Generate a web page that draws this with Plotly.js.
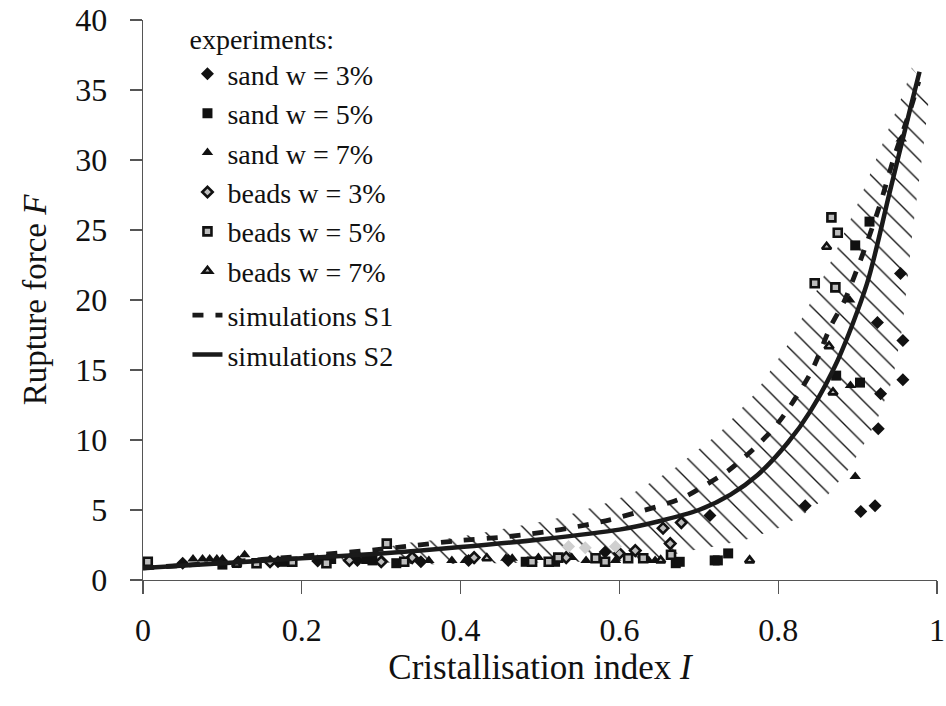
<!DOCTYPE html>
<html><head><meta charset="utf-8">
<script src="https://cdn.plot.ly/plotly-3.0.1.min.js"></script>
<style>html,body{margin:0;padding:0;background:#fff}</style>
</head><body><div id="chart" style="width:946px;height:706px"></div>
<script>
// ---- simulation curves ----
const s1I = [0, 0.1, 0.2, 0.3, 0.331, 0.395, 0.46, 0.526, 0.588, 0.62, 0.651, 0.681, 0.709, 0.737, 0.762, 0.784, 0.805, 0.841, 0.866, 0.883, 0.906, 0.927, 0.946, 0.967, 0.977];
const s1F = [0.85, 1.25, 1.7, 2.2, 2.4, 2.8, 3.1, 3.6, 4.3, 4.8, 5.3, 5.9, 6.8, 7.8, 9.0, 10.2, 11.6, 14.8, 18.1, 19.9, 23.2, 26.6, 30.2, 33.7, 35.6];
const s2I = [0, 0.1, 0.2, 0.3, 0.4, 0.5, 0.6, 0.65, 0.7, 0.74, 0.774, 0.812, 0.841, 0.875, 0.912, 0.94, 0.966, 0.978];
const s2F = [0.85, 1.2, 1.55, 1.9, 2.35, 2.9, 3.6, 4.2, 5.0, 6.1, 7.5, 9.8, 12.1, 15.7, 21.2, 27.6, 33.6, 36.3];

// ---- hatched band (upper edge, then lower edge) ----
const bandUpperI = [0.25, 0.3, 0.325, 0.39, 0.43, 0.47, 0.515, 0.55, 0.59, 0.62, 0.67, 0.726, 0.772, 0.812, 0.847, 0.872, 0.902, 0.931, 0.96, 0.968];
const bandUpperF = [1.65, 2.2, 2.6, 3.0, 3.4, 3.8, 4.3, 4.9, 5.6, 6.3, 8.0, 10.5, 13.4, 16.8, 20.5, 23.4, 27.1, 31.1, 35.1, 36.6];
const bandLowerI = [0.25, 0.35, 0.45, 0.55, 0.64, 0.68, 0.72, 0.76, 0.8, 0.83, 0.86, 0.89, 0.91, 0.925, 0.944, 0.956, 0.963, 0.969, 0.977, 0.983, 0.991];
const bandLowerF = [1.45, 1.1, 1.2, 1.3, 1.4, 2.0, 2.4, 2.9, 3.7, 4.6, 5.9, 8.0, 9.9, 11.5, 14.3, 17.9, 21.5, 24.8, 28.4, 31, 35];

// ---- experiments ----
const sand3I = [0.05, 0.12, 0.17, 0.22, 0.27, 0.35, 0.41, 0.46, 0.52, 0.582, 0.714, 0.834, 0.904, 0.922, 0.926, 0.929, 0.957, 0.957, 0.925, 0.954];
const sand3F = [1.2, 1.3, 1.3, 1.35, 1.4, 1.3, 1.4, 1.4, 1.5, 2.0, 4.6, 5.3, 4.9, 5.3, 10.8, 13.3, 14.3, 17.1, 18.4, 21.9];
const sand5I = [0.1, 0.176, 0.237, 0.268, 0.281, 0.289, 0.319, 0.482, 0.519, 0.671, 0.676, 0.72, 0.724, 0.737, 0.873, 0.903, 0.897, 0.915];
const sand5F = [1.1, 1.3, 1.5, 1.6, 1.5, 1.4, 1.2, 1.3, 1.3, 1.2, 1.3, 1.4, 1.4, 1.9, 14.6, 14.1, 23.9, 25.6];
const sand7I = [0.063, 0.075, 0.084, 0.093, 0.1, 0.128, 0.36, 0.389, 0.406, 0.457, 0.465, 0.498, 0.54, 0.558, 0.595, 0.637, 0.645, 0.897, 0.891, 0.89, 0.955];
const sand7F = [1.5, 1.5, 1.5, 1.5, 1.5, 1.8, 1.4, 1.4, 1.4, 1.55, 1.55, 1.6, 1.6, 1.4, 1.4, 1.4, 1.4, 7.4, 13.9, 20.0, 31.5];
const beads3I = [0.16, 0.26, 0.3, 0.339, 0.417, 0.533, 0.6, 0.62, 0.655, 0.664, 0.678];
const beads3F = [1.3, 1.4, 1.3, 1.6, 1.6, 1.6, 1.9, 2.1, 3.7, 2.6, 4.1];
const beads5I = [0.006, 0.143, 0.188, 0.231, 0.307, 0.329, 0.49, 0.511, 0.523, 0.57, 0.582, 0.611, 0.63, 0.665, 0.846, 0.872, 0.875, 0.867];
const beads5F = [1.3, 1.2, 1.3, 1.2, 2.6, 1.3, 1.3, 1.3, 1.6, 1.55, 1.3, 1.55, 1.55, 1.8, 21.2, 20.9, 24.8, 25.9];
const beads7I = [0.118, 0.433, 0.652, 0.764, 0.869, 0.864, 0.861];
const beads7F = [1.1, 1.55, 1.4, 1.4, 13.4, 16.7, 23.8];
const greyI = [0.536, 0.557, 0.595];
const greyF = [2.4, 2.3, 2.4];

const xTicks = [0, 0.2, 0.4, 0.6, 0.8, 1];
const xTickText = ['0', '0.2', '0.4', '0.6', '0.8', '1'];
const yTicks = [0, 5, 10, 15, 20, 25, 30, 35, 40];

const FONT = '"Liberation Serif", "Times New Roman", serif';

const traces = [];
traces.push({
  x: bandUpperI.concat(bandLowerI.slice().reverse()),
  y: bandUpperF.concat(bandLowerF.slice().reverse()),
  mode: 'lines', fill: 'toself', line: {width: 0, color: 'rgba(0,0,0,0)'},
  fillcolor: 'rgba(0,0,0,0)',
  fillpattern: {shape: '\\', fgcolor: '#111', bgcolor: 'rgba(0,0,0,0)', size: 15, solidity: 0.09},
  showlegend: false, hoverinfo: 'skip'
});
function mk(name, xs, ys, sym, hollow) {
  return {
    x: xs, y: ys, mode: 'markers', name: name, legendgroup: 'exp',
    marker: hollow
      ? {symbol: sym, size: 8, color: '#bdbdbd', line: {color: '#111', width: 2.6}}
      : {symbol: sym, size: 10, color: '#111', line: {width: 0}}
  };
}
traces.push(mk('sand w = 3%', sand3I, sand3F, 'diamond', false));
traces.push(mk('sand w = 5%', sand5I, sand5F, 'square', false));
traces.push(mk('sand w = 7%', sand7I, sand7F, 'triangle-up', false));
traces.push(mk('beads w = 3%', beads3I, beads3F, 'diamond', true));
traces.push(mk('beads w = 5%', beads5I, beads5F, 'square', true));
traces.push(mk('beads w = 7%', beads7I, beads7F, 'triangle-up', true));
traces.push({x: greyI, y: greyF, mode: 'markers', showlegend: false, legendgroup: 'exp',
  marker: {symbol: 'diamond', size: 10, color: '#cfcfcf'}});
traces.push({x: s1I, y: s1F, mode: 'lines', name: 'simulations S1', legendgroup: 'sim',
  line: {color: '#1a1a1a', width: 4.8, dash: '11px,12px', shape: 'spline', smoothing: 0.8}});
traces.push({x: s2I, y: s2F, mode: 'lines', name: 'simulations S2', legendgroup: 'sim',
  line: {color: '#1a1a1a', width: 4.5, shape: 'spline', smoothing: 0.8}});

const layout = {
  width: 946, height: 706,
  margin: {l: 143, r: 9, t: 20, b: 126},
  paper_bgcolor: '#fff', plot_bgcolor: '#fff',
  font: {family: FONT, color: '#111', size: 30},
  showlegend: true,
  legend: {
    x: 0.056, y: 1.013, xanchor: 'left', yanchor: 'top',
    font: {family: FONT, size: 28, color: '#111'},
    title: {text: 'experiments:', font: {family: FONT, size: 28, color: '#111'}},
    traceorder: 'grouped', tracegroupgap: 5, maxheight: 680,
    bgcolor: 'rgba(0,0,0,0)', borderwidth: 0
  },
  xaxis: {
    range: [0, 1], tickvals: xTicks, ticktext: xTickText,
    showgrid: false, zeroline: false, showline: true, linecolor: '#555', linewidth: 1.3,
    ticks: 'outside', ticklen: 13, tickcolor: '#555', tickwidth: 1.3,
    tickfont: {family: FONT, size: 32, color: '#111'}, ticklabelstandoff: 8,
    ticklabeloverflow: 'allow',
    title: {text: 'Cristallisation index <i>I</i>', font: {family: FONT, size: 35, color: '#111'}, standoff: 6}
  },
  yaxis: {
    range: [0, 40], tickvals: yTicks,
    showgrid: false, zeroline: false, showline: true, linecolor: '#555', linewidth: 1.3,
    ticks: 'outside', ticklen: 12, tickcolor: '#555', tickwidth: 1.3,
    tickfont: {family: FONT, size: 32, color: '#111'}, ticklabelstandoff: 16,
    title: {text: 'Rupture force <i>F</i>', font: {family: FONT, size: 33, color: '#111'}, standoff: 18}
  }
};
Plotly.newPlot('chart', traces, layout, {displayModeBar: false, staticPlot: true});
</script></body></html>
